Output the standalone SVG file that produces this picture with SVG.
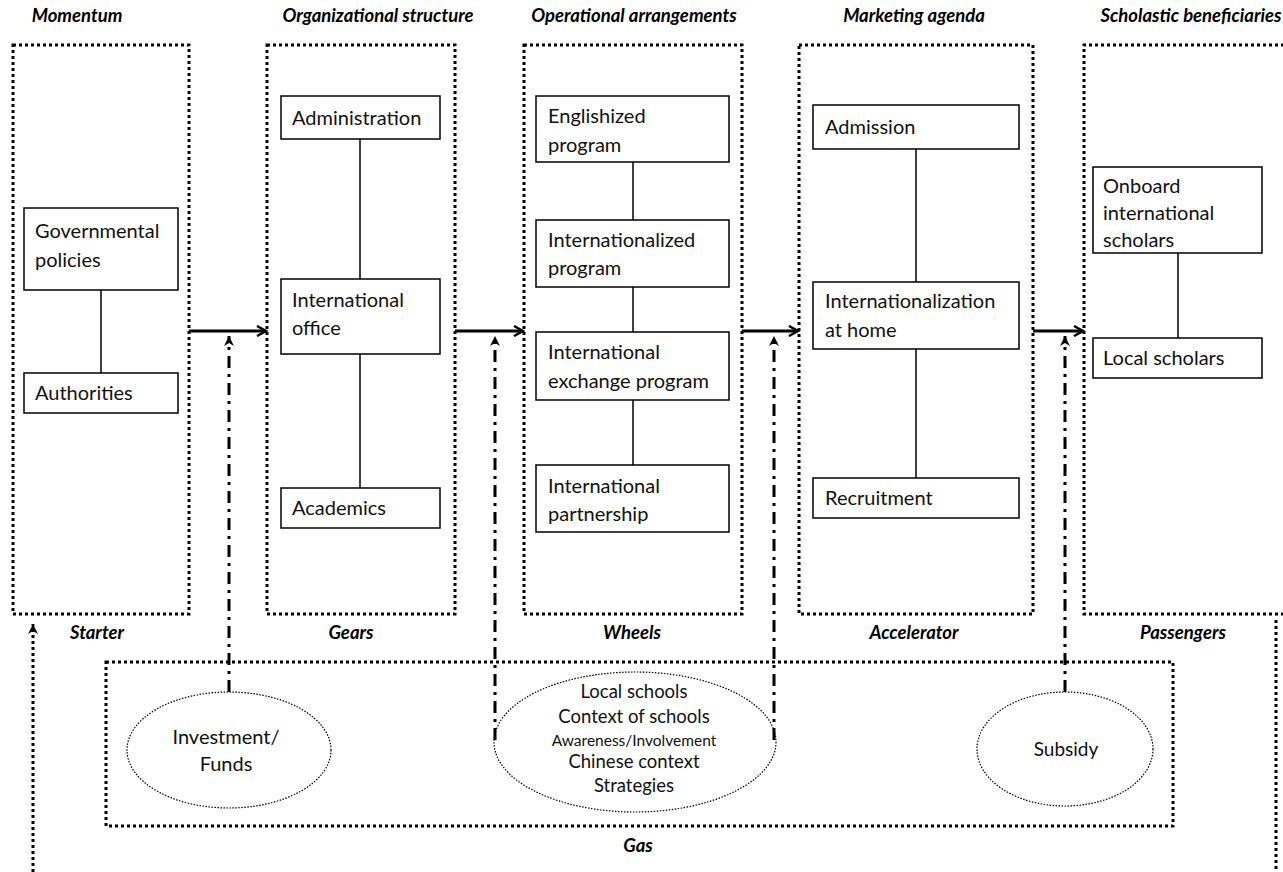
<svg xmlns="http://www.w3.org/2000/svg" width="1283" height="872" viewBox="0 0 1283 872">
  <style>
    .frame { fill: none; stroke: #000; stroke-width: 3; stroke-dasharray: 3 3; }
    .box { fill: #fff; stroke: #000; stroke-width: 1.5; }
    .link { stroke: #000; stroke-width: 1.5; }
    .flow { stroke: #000; stroke-width: 3; fill: none; }
    .feed { stroke: #000; stroke-width: 3; fill: none; stroke-dasharray: 12 6 3 6; }
    .oval { fill: none; stroke: #000; stroke-width: 1.2; stroke-dasharray: 1.5 1.5; }
    .t { font-family: Lato, "Liberation Sans", sans-serif; font-size: 20px; fill: #111; }
    .tc { font-family: Lato, "Liberation Sans", sans-serif; font-size: 18.5px; fill: #111; text-anchor: middle; }
    .h { font-family: Lato, "Liberation Sans", sans-serif; font-size: 18.5px; font-weight: bold; font-style: italic; fill: #000; text-anchor: middle; }
  </style>
  <defs>
    <marker id="arrs" viewBox="0 0 12 12" markerWidth="12" markerHeight="12" refX="10" refY="6" orient="auto" markerUnits="userSpaceOnUse">
      <path d="M1,1 L10,6 L1,11" fill="none" stroke="#000" stroke-width="2.5"/>
    </marker>
    <marker id="tip" viewBox="0 0 12 12" markerWidth="12" markerHeight="12" refX="11" refY="6" orient="auto" markerUnits="userSpaceOnUse">
      <path d="M11,6 L1,1 L4,6 L1,11 Z" fill="#000"/>
    </marker>
  </defs>

  <!-- stage frames -->
  <g id="momentum">
    <text class="h" x="77" y="22">Momentum</text>
    <rect class="frame" x="13" y="45" width="176" height="569"/>
    <text class="h" x="97" y="639">Starter</text>
  </g>
  <g id="organizational">
    <text class="h" x="378" y="22">Organizational structure</text>
    <rect class="frame" x="267" y="45" width="188" height="569"/>
    <text class="h" x="351" y="639">Gears</text>
  </g>
  <g id="operational">
    <text class="h" x="634" y="22">Operational arrangements</text>
    <rect class="frame" x="524" y="45" width="218" height="569"/>
    <text class="h" x="632" y="639">Wheels</text>
  </g>
  <g id="marketing">
    <text class="h" x="914" y="22">Marketing agenda</text>
    <rect class="frame" x="799" y="45" width="234" height="569"/>
    <text class="h" x="914" y="639">Accelerator</text>
  </g>
  <g id="beneficiaries">
    <text class="h" x="1191" y="22">Scholastic beneficiaries</text>
    <path class="frame" d="M1290,45 H1084 V614 H1290"/>
    <text class="h" x="1183" y="639">Passengers</text>
  </g>
  <g id="gas">
    <rect class="frame" x="106" y="662" width="1067" height="164"/>
    <text class="h" x="638" y="852">Gas</text>
  </g>

  <!-- links inside stages -->
  <g id="links">
    <line class="link" x1="101" y1="290" x2="101" y2="373"/>
    <line class="link" x1="360" y1="139" x2="360" y2="279"/>
    <line class="link" x1="360" y1="354" x2="360" y2="488"/>
    <line class="link" x1="633" y1="162" x2="633" y2="220"/>
    <line class="link" x1="633" y1="287" x2="633" y2="332"/>
    <line class="link" x1="633" y1="400" x2="633" y2="465"/>
    <line class="link" x1="916" y1="149" x2="916" y2="282"/>
    <line class="link" x1="916" y1="349" x2="916" y2="478"/>
    <line class="link" x1="1178" y1="253" x2="1178" y2="338"/>
  </g>

  <!-- stage boxes -->
  <g id="governmental-policies">
    <rect class="box" x="24" y="208" width="154" height="82"/>
    <text class="t" x="35" y="238">Governmental</text>
    <text class="t" x="35" y="267">policies</text>
  </g>
  <g id="authorities">
    <rect class="box" x="24" y="373" width="154" height="40"/>
    <text class="t" x="35" y="400">Authorities</text>
  </g>
  <g id="administration">
    <rect class="box" x="281" y="96" width="159" height="43"/>
    <text class="t" x="292" y="125">Administration</text>
  </g>
  <g id="international-office">
    <rect class="box" x="281" y="279" width="159" height="75"/>
    <text class="t" x="292" y="307">International</text>
    <text class="t" x="292" y="335">office</text>
  </g>
  <g id="academics">
    <rect class="box" x="281" y="488" width="159" height="40"/>
    <text class="t" x="292" y="515">Academics</text>
  </g>
  <g id="englishized-program">
    <rect class="box" x="536" y="96" width="193" height="66"/>
    <text class="t" x="548" y="123">Englishized</text>
    <text class="t" x="548" y="152">program</text>
  </g>
  <g id="internationalized-program">
    <rect class="box" x="536" y="220" width="193" height="67"/>
    <text class="t" x="548" y="247">Internationalized</text>
    <text class="t" x="548" y="275">program</text>
  </g>
  <g id="exchange-program">
    <rect class="box" x="536" y="332" width="193" height="68"/>
    <text class="t" x="548" y="359">International</text>
    <text class="t" x="548" y="388">exchange program</text>
  </g>
  <g id="partnership">
    <rect class="box" x="536" y="465" width="193" height="67"/>
    <text class="t" x="548" y="493">International</text>
    <text class="t" x="548" y="521">partnership</text>
  </g>
  <g id="admission">
    <rect class="box" x="813" y="105" width="206" height="44"/>
    <text class="t" x="825" y="134">Admission</text>
  </g>
  <g id="internationalization-at-home">
    <rect class="box" x="813" y="282" width="206" height="67"/>
    <text class="t" x="825" y="308">Internationalization</text>
    <text class="t" x="825" y="337">at home</text>
  </g>
  <g id="recruitment">
    <rect class="box" x="813" y="478" width="206" height="40"/>
    <text class="t" x="825" y="505">Recruitment</text>
  </g>
  <g id="onboard-scholars">
    <rect class="box" x="1093" y="167" width="169" height="86"/>
    <text class="t" x="1103" y="193">Onboard</text>
    <text class="t" x="1103" y="220">international</text>
    <text class="t" x="1103" y="247">scholars</text>
  </g>
  <g id="local-scholars">
    <rect class="box" x="1093" y="338" width="169" height="40"/>
    <text class="t" x="1103" y="365">Local scholars</text>
  </g>

  <!-- gas sources -->
  <g id="investment">
    <ellipse class="oval" cx="229" cy="750" rx="102" ry="58"/>
    <text class="tc" x="226" y="744" style="font-size:20px">Investment/</text>
    <text class="tc" x="226" y="771" style="font-size:20px">Funds</text>
  </g>
  <g id="context">
    <ellipse class="oval" cx="635" cy="742" rx="141" ry="70"/>
    <text class="tc" x="634" y="698">Local schools</text>
    <text class="tc" x="634" y="723">Context of schools</text>
    <text class="tc" x="634" y="746" style="font-size:15.5px">Awareness/Involvement</text>
    <text class="tc" x="634" y="768">Chinese context</text>
    <text class="tc" x="634" y="792">Strategies</text>
  </g>
  <g id="subsidy">
    <ellipse class="oval" cx="1065" cy="749" rx="88" ry="57"/>
    <text class="tc" x="1066" y="756" style="font-size:19px">Subsidy</text>
  </g>

  <!-- connectors -->
  <g id="connectors">
    <line class="flow" x1="189" y1="331" x2="266" y2="331" marker-end="url(#arrs)"/>
    <line class="flow" x1="455" y1="331" x2="523" y2="331" marker-end="url(#arrs)"/>
    <line class="flow" x1="742" y1="331" x2="798" y2="331" marker-end="url(#arrs)"/>
    <line class="flow" x1="1033" y1="331" x2="1083" y2="331" marker-end="url(#arrs)"/>

    <line class="feed" x1="229" y1="692" x2="229" y2="336" marker-end="url(#tip)"/>
    <line class="feed" x1="495" y1="740" x2="495" y2="336" marker-end="url(#tip)"/>
    <line class="feed" x1="774" y1="740" x2="774" y2="336" marker-end="url(#tip)"/>
    <line class="feed" x1="1065" y1="692" x2="1065" y2="336" marker-end="url(#tip)"/>

    <line class="frame" x1="33" y1="872" x2="33" y2="624" marker-end="url(#tip)"/>
    <line class="frame" x1="1276" y1="620" x2="1276" y2="872"/>
  </g>
</svg>
